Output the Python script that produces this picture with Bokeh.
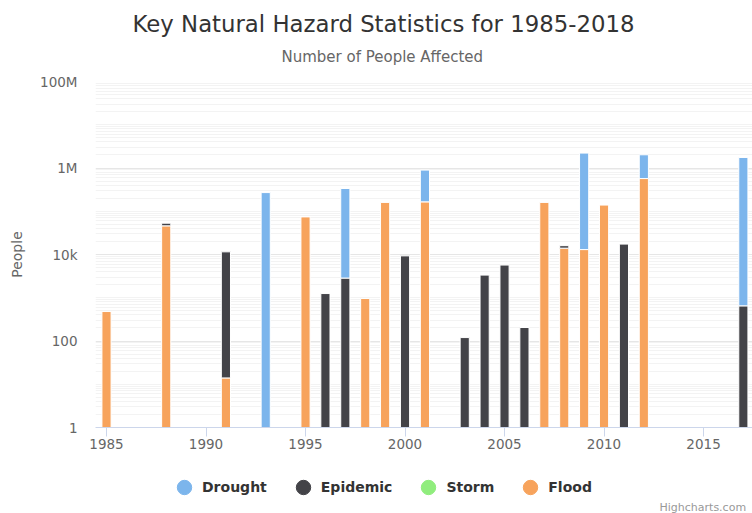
from bokeh.plotting import figure
from bokeh.layouts import column
from bokeh.models import (ColumnDataSource, FixedTicker, Legend, LegendItem, Title,
                          Label, Range1d)
from bokeh.embed import file_html
from bokeh.resources import INLINE

# ---------------- data ----------------
years = [1985, 1986, 1987, 1988, 1989, 1990, 1991, 1992, 1993, 1994,
         1995, 1996, 1997, 1998, 1999, 2000, 2001, 2002, 2003, 2004,
         2005, 2006, 2007, 2008, 2009, 2010, 2011, 2012, 2013, 2014,
         2015, 2016, 2017, 2018]
flood = [480, 0, 0, 46000, 0, 0, 14, 0, 0, 0,
         74000, 0, 0, 960, 160000, 0, 165000, 0, 0, 0,
         0, 0, 160000, 14000, 13000, 139000, 0, 570000, 0, 0,
         0, 0, 0, 0]
storm = [0, 0, 0, 0, 0, 0, 0, 0, 0, 0,
         0, 0, 0, 0, 0, 0, 0, 0, 0, 0,
         0, 0, 0, 0, 0, 0, 0, 0, 0, 0,
         0, 0, 0, 0]
epidemic = [0, 0, 0, 7000, 0, 0, 11500, 0, 0, 0,
            0, 1250, 2850, 0, 0, 9300, 0, 0, 120, 3340,
            5700, 205, 0, 2000, 0, 0, 17400, 0, 0, 0,
            0, 0, 650, 0]
drought = [0, 0, 0, 0, 0, 0, 0, 0, 270000, 0,
           0, 0, 333000, 0, 0, 0, 730000, 0, 0, 0,
           0, 0, 0, 0, 2200000, 0, 0, 1450000, 0, 0,
           0, 0, 1750000, 0]
x_ticks = [1985, 1990, 1995, 2000, 2005, 2010, 2015]
y_ticks = [1, 100, 10000, 1000000, 100000000]
y_tick_labels = ["1", "100", "10k", "1M", "100M"]

series_names = ["Drought", "Epidemic", "Storm", "Flood"]
series_colors = ["#7cb5ec", "#434348", "#90ed7d", "#f7a35c"]
series_values = [drought, epidemic, storm, flood]

FONT = "DejaVu Sans"

# ---------------- main chart ----------------
p = figure(width=752, height=460, y_axis_type="log",
           x_range=Range1d(1984.447, 2017.46), y_range=Range1d(1, 1e8),
           output_backend="svg", toolbar_location=None, title=None,
           min_border_left=95, min_border_right=0, min_border_top=81,
           min_border_bottom=33)
p.outline_line_color = None
p.background_fill_color = "white"
p.border_fill_color = "white"

# stacked columns (bottom -> top: Flood, Storm, Epidemic, Drought)
cum = [0.0] * len(years)
for idx in [3, 2, 1, 0]:
    vals = series_values[idx]
    xs, bots, tops = [], [], []
    for i, v in enumerate(vals):
        if v > 0:
            xs.append(years[i])
            bots.append(max(cum[i], 1))
            tops.append(cum[i] + v)
            cum[i] += v
    src = ColumnDataSource(dict(x=xs, bottom=bots, top=tops))
    p.vbar(x="x", bottom="bottom", top="top", width=0.46, source=src,
           fill_color=series_colors[idx], line_color="white", line_width=1)

# y axis / grid
minor = []
for n in range(0, 8):
    for k in range(1, 10):
        v = k * 10 ** n
        if v not in y_ticks:
            minor.append(v)
p.yaxis.ticker = FixedTicker(ticks=y_ticks, minor_ticks=minor)
p.yaxis.major_label_overrides = {t: l for t, l in zip(y_ticks, y_tick_labels)}
p.yaxis.axis_line_color = None
p.yaxis.major_tick_line_color = None
p.yaxis.major_tick_out = 0
p.yaxis.major_tick_in = 0
p.yaxis.minor_tick_line_color = None
p.yaxis.minor_tick_out = 0
p.yaxis.major_label_standoff = 18
p.yaxis.major_label_text_font = FONT
p.yaxis.major_label_text_font_size = "13.5px"
p.yaxis.major_label_text_color = "#666666"
p.yaxis.axis_label = "People"
p.yaxis.axis_label_text_font = FONT
p.yaxis.axis_label_text_font_size = "14px"
p.yaxis.axis_label_text_font_style = "normal"
p.yaxis.axis_label_text_color = "#666666"
p.yaxis.axis_label_standoff = 12
p.ygrid.grid_line_color = "#e6e6e6"
p.ygrid.minor_grid_line_color = "#f3f3f3"
p.xgrid.grid_line_color = None

# x axis
p.xaxis.ticker = FixedTicker(ticks=x_ticks, minor_ticks=[])
p.xaxis.axis_line_color = "#ccd6eb"
p.xaxis.major_tick_line_color = "#ccd6eb"
p.xaxis.major_tick_out = 9
p.xaxis.major_tick_in = 0
p.xaxis.minor_tick_line_color = None
p.xaxis.major_label_standoff = 2
p.xaxis.major_label_text_font = FONT
p.xaxis.major_label_text_font_size = "13.5px"
p.xaxis.major_label_text_color = "#666666"

# titles (subtitle first = closest to the plot)
p.add_layout(Title(text="Number of People Affected", align="left", offset=186,
                   standoff=32, text_font=FONT, text_font_size="15px",
                   text_font_style="normal", text_color="#666666"), "above")
p.add_layout(Title(text="Key Natural Hazard Statistics for 1985-2018",
                   align="left", offset=37, standoff=-14, text_font=FONT,
                   text_font_size="22.8px", text_font_style="normal",
                   text_color="#333333"), "above")

# ---------------- legend strip ----------------
lg = figure(width=752, height=53, x_range=Range1d(0, 657), y_range=Range1d(0, 53),
            output_backend="svg", toolbar_location=None, title=None,
            x_axis_location=None, y_axis_location=None,
            min_border_left=95, min_border_right=0, min_border_top=0,
            min_border_bottom=0)
lg.outline_line_color = None
lg.grid.visible = False
lg.background_fill_color = "white"
lg.border_fill_color = "white"

items = []
for name, color in zip(series_names, series_colors):
    # one placeholder point outside the visible range so the legend symbol renders
    r = lg.scatter(x=[-1000], y=[-1000], marker="circle", size=14,
                   fill_color=color, line_color=color)
    items.append(LegendItem(label=name, renderers=[r]))
legend = Legend(items=items, orientation="horizontal", location=(71, 7),
                border_line_color=None, background_fill_alpha=0,
                padding=0, margin=0, spacing=18,
                glyph_width=36, glyph_height=38, label_standoff=0,
                label_text_font=FONT, label_text_font_size="14px",
                label_text_font_style="bold", label_text_color="#333333",
                label_text_baseline="middle")
lg.add_layout(legend, "center")

lg.add_layout(Label(x=564, y=6, x_units="screen", y_units="screen",
                    text="Highcharts.com", text_align="left",
                    text_baseline="middle", text_font=FONT,
                    text_font_size="11px", text_color="#999999"))

layout = column(p, lg, spacing=0)
open("out.html", "w").write(file_html(layout, INLINE))
